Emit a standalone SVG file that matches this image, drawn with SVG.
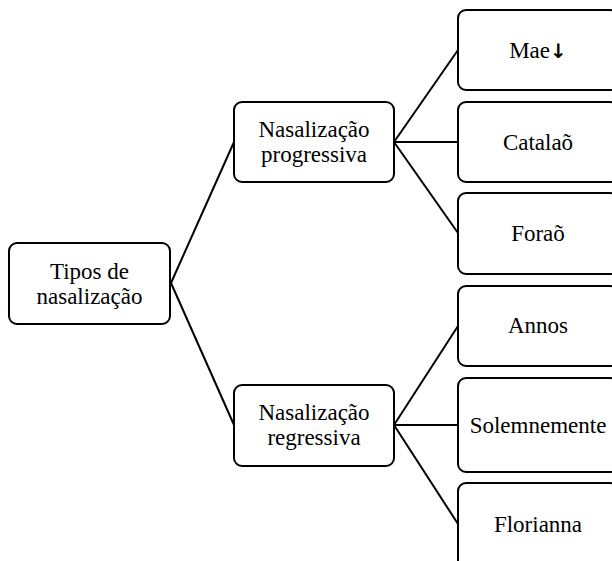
<svg xmlns="http://www.w3.org/2000/svg" width="612" height="561" viewBox="0 0 612 561">
<style>
.box{fill:#fff;stroke:#000;stroke-width:2}
.lbl{font-family:"Liberation Serif","Times New Roman",serif;font-size:23px;fill:#000;text-anchor:middle}
.arr{font-family:"DejaVu Sans",sans-serif;font-weight:bold;font-size:20px}
.conn line{stroke:#000;stroke-width:2;fill:none}
</style>
<rect width="612" height="561" fill="#fff"/>
<g class="conn" id="connectors">
<line x1="171" y1="283" x2="234" y2="142"/>
<line x1="171" y1="283" x2="234" y2="425"/>
<line x1="394" y1="142" x2="458" y2="50"/>
<line x1="394" y1="142" x2="458" y2="142"/>
<line x1="394" y1="142" x2="458" y2="233"/>
<line x1="394" y1="425" x2="458" y2="326"/>
<line x1="394" y1="425" x2="458" y2="425"/>
<line x1="394" y1="425" x2="458" y2="524"/>
</g>
<g id="root">
<rect class="box" x="9" y="243" width="161" height="81" rx="8"/>
<text class="lbl" x="89.5" y="279">Tipos de</text>
<text class="lbl" x="89.5" y="304">nasalização</text>
</g>
<g id="progressiva">
<rect class="box" x="234" y="102" width="160" height="80" rx="8"/>
<text class="lbl" x="314" y="137">Nasalização</text>
<text class="lbl" x="314" y="162">progressiva</text>
</g>
<g id="regressiva">
<rect class="box" x="234" y="385" width="160" height="81" rx="8"/>
<text class="lbl" x="314" y="420">Nasalização</text>
<text class="lbl" x="314" y="445">regressiva</text>
</g>
<g id="mae">
<rect class="box" x="458" y="10" width="160" height="80" rx="8"/>
<text class="lbl" x="538" y="57.5">Mae<tspan class="arr">↓</tspan></text>
</g>
<g id="catalao">
<rect class="box" x="458" y="102" width="160" height="80" rx="8"/>
<text class="lbl" x="538" y="149.5">Catalaõ</text>
</g>
<g id="forao">
<rect class="box" x="458" y="193" width="160" height="81" rx="8"/>
<text class="lbl" x="538" y="241">Foraõ</text>
</g>
<g id="annos">
<rect class="box" x="458" y="286" width="160" height="80" rx="8"/>
<text class="lbl" x="538" y="333">Annos</text>
</g>
<g id="solemnemente">
<rect class="box" x="458" y="378" width="160" height="94" rx="8"/>
<text class="lbl" x="538" y="433">Solemnemente</text>
</g>
<g id="florianna">
<rect class="box" x="458" y="483" width="160" height="90" rx="8"/>
<text class="lbl" x="538" y="532">Florianna</text>
</g>
</svg>
